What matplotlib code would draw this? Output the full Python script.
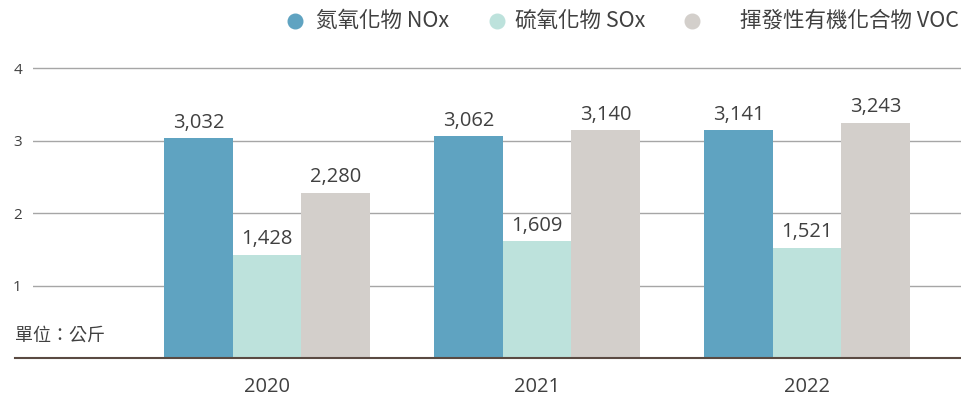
import numpy as np
import matplotlib.pyplot as plt
from matplotlib.lines import Line2D

plt.rcParams['font.family'] = ['Open Sans', 'Noto Sans CJK TC', 'DejaVu Sans']

# 排放量 (公斤)
years = ['2020', '2021', '2022']
nox = [3032, 3062, 3141]
sox = [1428, 1609, 1521]
voc = [2280, 3140, 3243]
series_names = ['氮氧化物 NOx', '硫氧化物 SOx', '揮發性有機化合物 VOC']
colors = ['#5fa3c1', '#bde2dc', '#d3cfcb']
text_color = '#404040'

W, H = 962, 397
fig = plt.figure(figsize=(W / 100, H / 100), dpi=100)
ax = fig.add_axes([33 / W, 39 / H, (W - 33) / W, (358 - 50) / H])

x = np.arange(len(years))
width = 0.254
for i, (vals, c) in enumerate(zip([nox, sox, voc], colors)):
    v = np.array(vals) / 1000
    bars = ax.bar(x + (i - 1) * width, v, width, color=c, zorder=3)
    ax.bar_label(bars, labels=[f'{n:,}' for n in vals], padding=4,
                 fontsize=14.5, color=text_color)

ax.set_xlim(-0.867, 2.574)
ax.set_ylim(0, 4.25)
ax.set_yticks([1, 2, 3, 4])
ax.set_xticks(x)
ax.set_xticklabels(years, fontsize=14.5, color=text_color)
ax.tick_params(axis='x', length=0, pad=14)
ax.tick_params(axis='y', length=0, pad=8, labelsize=11, labelcolor=text_color)
ax.grid(axis='y', color='#a6a6a6', linewidth=1, zorder=0)
for s in ax.spines.values():
    s.set_visible(False)
ax.axhline(0, xmin=-18 / (W - 33), xmax=1, color='#5a4a42', linewidth=1.5,
           clip_on=False, zorder=4)

fig.text(15 / W, 1 - 336 / H, '單位：公斤', fontsize=13, color=text_color,
         va='center', ha='left', family=['Noto Sans CJK TC'])

# 圖例
marker_x = [295, 497, 692]
label_x = [316, 515, 740]
for mx, lx, c, name in zip(marker_x, label_x, colors, series_names):
    fig.add_artist(Line2D([mx / W], [1 - 21 / H], marker='o', markersize=10.5,
                          color=c, linestyle='none', transform=fig.transFigure))
    fig.text(lx / W, 1 - 21 / H, name, fontsize=15.5, color=text_color,
             va='center', ha='left', family=['Noto Sans CJK TC'])

fig.savefig('out.png', dpi=100)
